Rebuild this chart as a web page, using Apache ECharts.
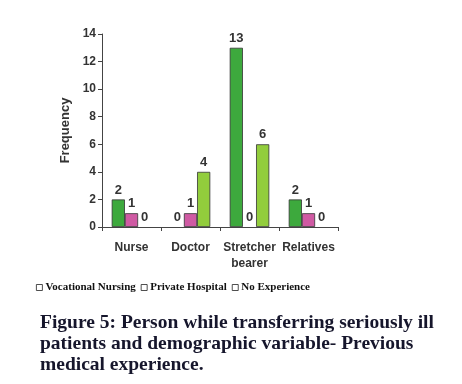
<!DOCTYPE html>
<html>
<head>
<meta charset="utf-8">
<script src="https://cdn.jsdelivr.net/npm/echarts@6/dist/echarts.min.js"></script>
<style>
  html, body { margin: 0; padding: 0; background: #fff; }
  #chart { width: 462px; height: 384px; }
</style>
</head>
<body>
<div id="chart"></div>
<script>
const categories = ["Nurse", "Doctor", "Stretcher\nbearer", "Relatives"];
const seriesNames = ["Vocational Nursing", "Private Hospital", "No Experience"];
const vocational = [2, 0, 13, 2];
const privateHosp = [1, 1, 0, 1];
const noExperience = [0, 4, 6, 0];
const colors = ["#3da93d", "#cf5aa3", "#92cd3c"];

const chart = echarts.init(document.getElementById("chart"));

// zero bars: keep the label, drop the outline so no stub line shows
const barSeries = [vocational, privateHosp, noExperience].map((data, i) => ({
  name: seriesNames[i],
  type: "bar",
  data: data.map((v) => (v === 0 ? { value: v, itemStyle: { borderWidth: 0 } } : v)),
  barGap: "0%",
  barCategoryGap: "33%",
  itemStyle: { color: colors[i], borderColor: "#333", borderWidth: 0.8 },
  label: {
    show: true,
    position: "top",
    distance: 3,
    color: "#333",
    fontFamily: "Liberation Sans",
    fontWeight: "bold",
    fontSize: 13,
  },
}));

const option = {
  backgroundColor: "#fff",
  animation: false,
  title: {
    text: "Figure 5: Person while transferring seriously ill\npatients and demographic variable- Previous\nmedical experience.",
    left: 40,
    top: 312,
    padding: 0,
    textStyle: {
      fontFamily: "Liberation Serif",
      fontWeight: "bold",
      fontSize: 19.5,
      lineHeight: 21,
      color: "#16162c",
    },
  },
  legend: {
    data: seriesNames,
    left: 36,
    top: 282,
    padding: 0,
    itemWidth: 6,
    itemHeight: 6,
    itemGap: 5,
    icon: "rect",
    itemStyle: { color: "#fff", borderColor: "#222", borderWidth: 0.8 },
    textStyle: {
      fontFamily: "Liberation Serif",
      fontWeight: "bold",
      fontSize: 11,
      color: "#111",
      padding: [0, 0, 0, -2],
    },
  },
  grid: { left: 102, right: 124, top: 34, bottom: 157, outerBoundsMode: "none" },
  xAxis: {
    type: "category",
    data: categories,
    axisLine: { lineStyle: { color: "#444", width: 1 } },
    axisTick: { show: true, length: 4, lineStyle: { color: "#444" } },
    axisLabel: {
      color: "#333",
      fontFamily: "Liberation Sans",
      fontWeight: "bold",
      fontSize: 12,
      margin: 13,
      lineHeight: 16,
      interval: 0,
    },
  },
  yAxis: {
    type: "value",
    min: 0,
    max: 14,
    interval: 2,
    name: "Frequency",
    nameLocation: "middle",
    nameGap: 30,
    nameTextStyle: {
      color: "#333",
      fontFamily: "Liberation Sans",
      fontWeight: "bold",
      fontSize: 13,
    },
    axisLine: { show: true, lineStyle: { color: "#444", width: 1 } },
    axisTick: { show: true, length: 4, lineStyle: { color: "#444" } },
    splitLine: { show: false },
    axisLabel: {
      color: "#333",
      fontFamily: "Liberation Sans",
      fontWeight: "bold",
      fontSize: 12,
      margin: 6,
    },
  },
  series: barSeries,
};

chart.setOption(option);
</script>
</body>
</html>
